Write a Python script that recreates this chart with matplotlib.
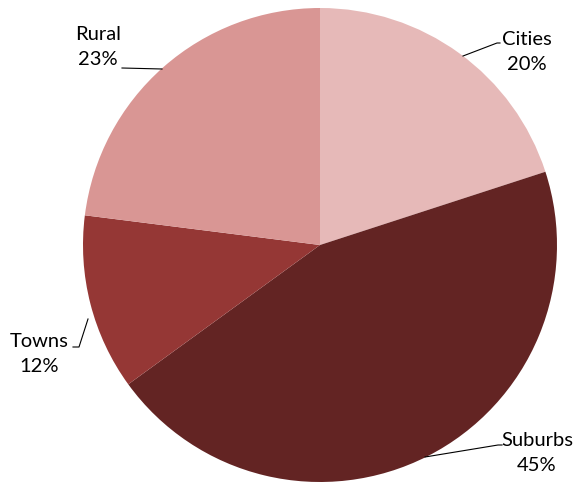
import matplotlib
matplotlib.use("Agg")
import matplotlib.pyplot as plt

categories = ["Cities", "Suburbs", "Towns", "Rural"]
shares = [20, 45, 12, 23]
colors = ["#E6B9B8", "#632423", "#953735", "#D99694"]

W, H = 583, 483
fig = plt.figure(figsize=(W / 100, H / 100), dpi=100)
ax = fig.add_axes([0, 0, 1, 1])

cx, cy, r = 320, H - 245, 237
wedges, _ = ax.pie(shares, colors=colors, startangle=90, counterclock=False,
                   center=(cx, cy), radius=r, wedgeprops=dict(linewidth=0))

ax.set_xlim(0, W)
ax.set_ylim(0, H)
ax.set_aspect("equal")
ax.axis("off")

font = dict(family=["Lato", "DejaVu Sans"], fontsize=14.5, color="black")

# label anchors and leader lines (x, y in pixels from top-left)
labels = {
    "Cities": dict(text=(527, 52), line=[(463, 56), (497, 43), (500, 43)]),
    "Suburbs": dict(text=(537, 453), line=[(425, 457), (498, 445), (502, 445)]),
    "Towns": dict(text=(39, 354), line=[(73, 347), (79, 347), (88, 319)]),
    "Rural": dict(text=(98, 47), line=[(122, 68), (162, 69)]),
}

for name, share in zip(categories, shares):
    info = labels[name]
    tx, ty = info["text"]
    ax.text(tx, H - ty, f"{name}\n{share}%", ha="center", va="center",
            linespacing=1.55, **font)
    xs = [p[0] for p in info["line"]]
    ys = [H - p[1] for p in info["line"]]
    ax.plot(xs, ys, color="black", linewidth=0.8)

fig.savefig("out.png", dpi=100)
